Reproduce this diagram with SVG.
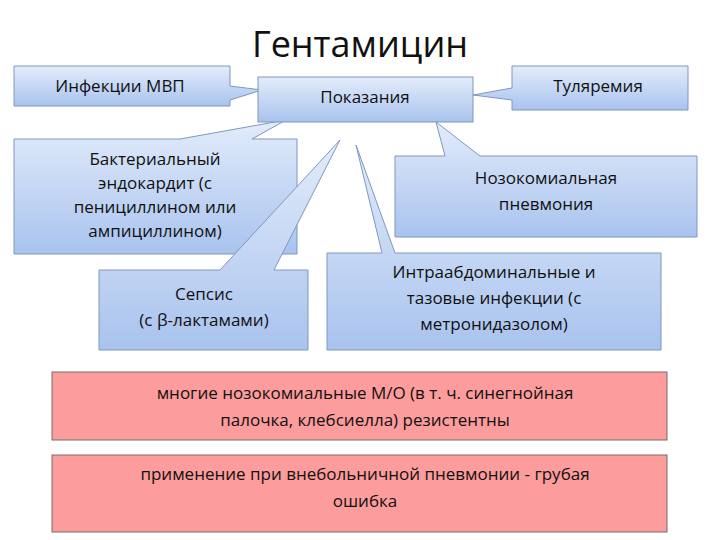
<svg xmlns="http://www.w3.org/2000/svg" width="720" height="540" viewBox="0 0 720 540">
<defs>
<linearGradient id="g" x1="0" y1="0" x2="0" y2="1"><stop offset="0" stop-color="#e3ecfb"/><stop offset="1" stop-color="#a9c3ee"/></linearGradient>
<style>
.b{fill:url(#g);stroke:#7f97bd;stroke-width:1}
.p{fill:#fc9c9c;stroke:#7a6a6a;stroke-width:1}
text{font-family:"Open Sans","DejaVu Sans",sans-serif;font-size:17px;fill:#111;text-anchor:middle}
.t{font-size:36px}
</style>
</defs>
<rect width="720" height="540" fill="#fff"/>
<text class="t" x="360" y="57">Гентамицин</text>
<g id="connectors"/>
<g id="infekcii"><path class="b" d="M14 66H230V86L262 90L230 100V106H14Z"/><text x="120" y="92">Инфекции МВП</text></g>
<g id="tularemia"><path class="b" d="M512 66H688V110H512V100L473 95L512 88Z"/><text x="598" y="92">Туляремия</text></g>
<g id="bakt"><path class="b" d="M14 139H180L286 120L252 139H297V254H14Z"/><text x="155" y="165">Бактериальный</text><text x="155" y="189">эндокардит (с</text><text x="155" y="213">пенициллином или</text><text x="155" y="237">ампициллином)</text></g>
<g id="sepsis"><path class="b" d="M99 270H220L340 140L274 270H308V350H99Z"/><text x="204" y="300">Сепсис</text><text x="204" y="326">(с β-лактамами)</text></g>
<g id="intra"><path class="b" d="M327 253H382L356 145L395 253H661V350H327Z"/><text x="494" y="278">Интраабдоминальные и</text><text x="494" y="304">тазовые инфекции (с</text><text x="494" y="330">метронидазолом)</text></g>
<g id="nozo"><path class="b" d="M395 156H445L436 122L480 156H697V237H395Z"/><text x="546" y="184">Нозокомиальная</text><text x="546" y="210">пневмония</text></g>
<g id="pokazania"><rect class="b" x="258" y="77" width="215" height="45"/><text x="365" y="103">Показания</text></g>
<g id="pink1"><rect class="p" x="52" y="372" width="615" height="68"/><text x="365" y="399">многие нозокомиальные М/О (в т. ч. синегнойная</text><text x="365" y="426">палочка, клебсиелла) резистентны</text></g>
<g id="pink2"><rect class="p" x="52" y="455" width="615" height="77"/><text x="365" y="480">применение при внебольничной пневмонии - грубая</text><text x="365" y="507">ошибка</text></g>
</svg>
